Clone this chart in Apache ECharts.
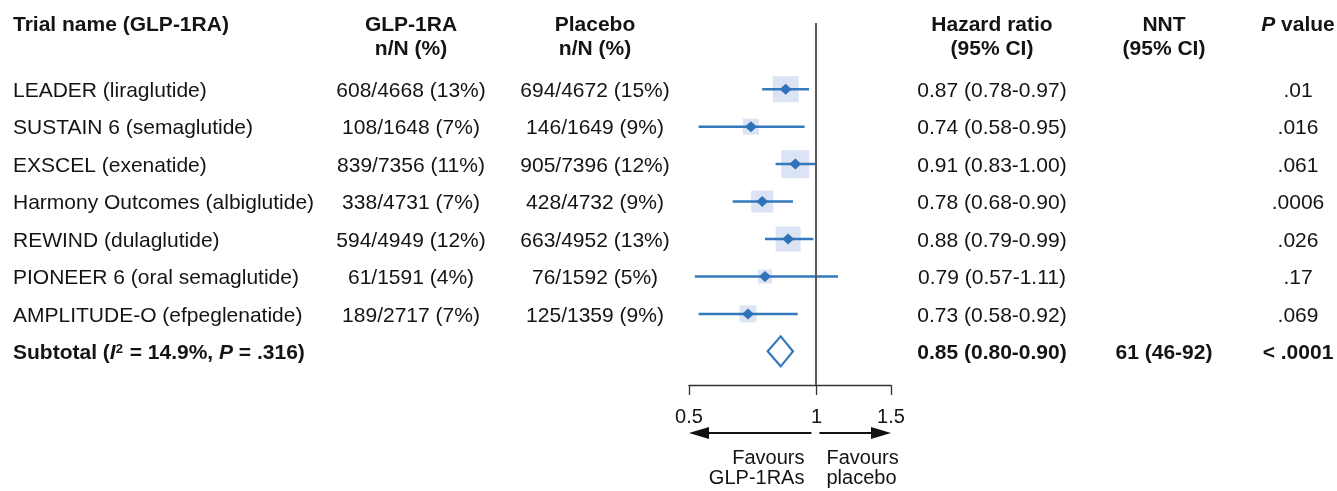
<!DOCTYPE html>
<html>
<head>
<meta charset="utf-8">
<script src="https://cdn.jsdelivr.net/npm/echarts@6/dist/echarts.min.js"></script>
<style>
html,body{margin:0;padding:0;background:#fff;}
#chart{width:1337px;height:491px;}
</style>
</head>
<body>
<div id="chart"></div>
<script>
// ---------------- DATA ----------------
const trials = ['LEADER (liraglutide)', 'SUSTAIN 6 (semaglutide)', 'EXSCEL (exenatide)',
  'Harmony Outcomes (albiglutide)', 'REWIND (dulaglutide)', 'PIONEER 6 (oral semaglutide)',
  'AMPLITUDE-O (efpeglenatide)'];
const glpEvents = ['608/4668 (13%)', '108/1648 (7%)', '839/7356 (11%)', '338/4731 (7%)',
  '594/4949 (12%)', '61/1591 (4%)', '189/2717 (7%)'];
const placeboEvents = ['694/4672 (15%)', '146/1649 (9%)', '905/7396 (12%)', '428/4732 (9%)',
  '663/4952 (13%)', '76/1592 (5%)', '125/1359 (9%)'];
const hr = [0.87, 0.74, 0.91, 0.78, 0.88, 0.79, 0.73];
const ciLow = [0.78, 0.58, 0.83, 0.68, 0.79, 0.57, 0.58];
const ciHigh = [0.97, 0.95, 1.00, 0.90, 0.99, 1.11, 0.92];
const pValues = ['.01', '.016', '.061', '.0006', '.026', '.17', '.069'];
const subtotalHR = 0.85, subtotalLow = 0.80, subtotalHigh = 0.90;
const subtotalNNT = '61 (46-92)';
const subtotalP = '< .0001';
const axisTicks = [0.5, 1, 1.5];

// ---------------- STYLE ----------------
const boxSizePx = [26, 16, 28, 22, 25, 14, 17];
const FONT = "'Liberation Sans', Arial, Helvetica, sans-serif";
const TXT = '#141414';
const BLUE = '#3478bd';
const BOX = '#dce3f5';
const fmt = v => v.toFixed(2);

const chart = echarts.init(document.getElementById('chart'), null, {renderer: 'canvas'});

const rowIdx = trials.map((_, i) => i);
const subRow = trials.length;

const option = {
  backgroundColor: '#ffffff',
  animation: false,
  grid: [
    {left: 666.7, width: 236, top: 23, height: 362},
    {left: 689, width: 202, top: 23, height: 362}
  ],
  xAxis: [
    {type: 'log', gridIndex: 0, min: 0.5, max: 1.5, logBase: 10, show: false},
    {type: 'value', gridIndex: 1, min: Math.log(0.5), max: Math.log(1.5),
      splitLine: {show: false},
      axisLine: {show: true, lineStyle: {color: '#333', width: 1.3}},
      axisTick: {show: true, customValues: axisTicks.map(Math.log), length: 10,
        lineStyle: {color: '#333', width: 1.3}},
      axisLabel: {show: true, customValues: axisTicks.map(Math.log), margin: 22,
        fontSize: 20, fontFamily: FONT, color: TXT,
        formatter: v => String(Math.round(Math.exp(v) * 10) / 10)}
    }
  ],
  yAxis: [
    {type: 'value', gridIndex: 0, inverse: true, min: -1.768, max: 7.899, show: false},
    {type: 'value', gridIndex: 1, show: false, min: 0, max: 1}
  ],
  series: [
    {
      type: 'scatter', xAxisIndex: 0, yAxisIndex: 0, z: 2,
      symbol: 'rect',
      data: hr.map((v, i) => ({value: [v, i], symbolSize: boxSizePx[i]})),
      itemStyle: {color: BOX, opacity: 1}
    },
    {
      type: 'custom', xAxisIndex: 0, yAxisIndex: 0, z: 3,
      data: rowIdx.map(i => [ciLow[i], i, ciHigh[i]]),
      encode: {x: [0, 2], y: 1},
      renderItem: (params, api) => {
        const y = api.value(1);
        const p1 = api.coord([api.value(0), y]);
        const p2 = api.coord([api.value(2), y]);
        return {type: 'line', shape: {x1: p1[0], y1: p1[1], x2: p2[0], y2: p2[1]},
          style: {stroke: BLUE, lineWidth: 2.5}};
      }
    },
    {
      type: 'scatter', xAxisIndex: 0, yAxisIndex: 0, z: 4,
      symbol: 'diamond', symbolSize: [12, 11],
      data: hr.map((v, i) => [v, i]),
      itemStyle: {color: '#2f72b8', opacity: 1},
      markLine: {
        silent: true, symbol: 'none', animation: false,
        label: {show: false},
        lineStyle: {color: '#5a5a5a', width: 2, type: 'solid'},
        data: [{xAxis: 1}]
      }
    },
    {
      type: 'custom', xAxisIndex: 0, yAxisIndex: 0, z: 4,
      data: [[subtotalLow, subRow, subtotalHigh, subtotalHR]],
      encode: {x: [0, 2, 3], y: 1},
      renderItem: (params, api) => {
        const y = api.value(1);
        const l = api.coord([api.value(0), y]);
        const r = api.coord([api.value(2), y]);
        const c = api.coord([api.value(3), y]);
        const h = 15;
        return {type: 'polygon',
          shape: {points: [[l[0], l[1]], [c[0], c[1] - h], [r[0], r[1]], [c[0], c[1] + h]]},
          style: {fill: '#fff', stroke: BLUE, lineWidth: 2.2}};
      }
    }
  ]
};
chart.setOption(option);

// ---------------- TEXT TABLE ----------------
const TEXT_DY = 2;
const rowY = i => chart.convertToPixel({xAxisIndex: 0, yAxisIndex: 0}, [1, i])[1] + TEXT_DY;
const ax = v => chart.convertToPixel({xAxisIndex: 1, yAxisIndex: 1}, [Math.log(v), 0]);

const colTrial = 13, colGlp = 411, colPla = 595, colHR = 992, colNNT = 1164, colP = 1298;
const head1 = 25, head2 = 49;
const g = [];
function txt(text, x, y, align, opts) {
  g.push({type: 'text', x: x, y: y, silent: true,
    style: Object.assign({text: text, fill: TXT, fontSize: 21, fontFamily: FONT,
      align: align, verticalAlign: 'middle'}, opts || {})});
}
const bold = {fontWeight: 'bold'};
// header
txt('Trial name (GLP-1RA)', colTrial, head1, 'left', bold);
txt('GLP-1RA', colGlp, head1, 'center', bold);
txt('n/N (%)', colGlp, head2, 'center', bold);
txt('Placebo', colPla, head1, 'center', bold);
txt('n/N (%)', colPla, head2, 'center', bold);
txt('Hazard ratio', colHR, head1, 'center', bold);
txt('(95% CI)', colHR, head2, 'center', bold);
txt('NNT', colNNT, head1, 'center', bold);
txt('(95% CI)', colNNT, head2, 'center', bold);
txt('{pi|P} value', colP, head1, 'center', {fontWeight: 'bold',
  rich: {pi: {fontStyle: 'italic', fontWeight: 'bold', fontSize: 21, fontFamily: FONT, fill: TXT}}});

rowIdx.forEach(i => {
  const y = rowY(i);
  txt(trials[i], colTrial, y, 'left');
  txt(glpEvents[i], colGlp, y, 'center');
  txt(placeboEvents[i], colPla, y, 'center');
  txt(fmt(hr[i]) + ' (' + fmt(ciLow[i]) + '-' + fmt(ciHigh[i]) + ')', colHR, y, 'center');
  txt(pValues[i], colP, y, 'center');
});
const ys = rowY(subRow);
const rb = {fontWeight: 'bold', fontSize: 21, fontFamily: FONT, fill: TXT};
txt('{b|Subtotal (}{bi|I}{sup|2}{b| = 14.9%, }{bi|P}{b| = .316)}', colTrial, ys, 'left', {
  fontWeight: 'bold',
  rich: {
    b: rb,
    bi: Object.assign({}, rb, {fontStyle: 'italic'}),
    sup: Object.assign({}, rb, {fontSize: 13, verticalAlign: 'top', padding: [0, 1, 0, 0]})
  }
});
txt(fmt(subtotalHR) + ' (' + fmt(subtotalLow) + '-' + fmt(subtotalHigh) + ')', colHR, ys, 'center', bold);
txt(subtotalNNT, colNNT, ys, 'center', bold);
txt(subtotalP, colP, ys, 'center', bold);

// ---------------- FAVOURS ARROWS ----------------
const xL = ax(axisTicks[0])[0], xC = ax(1)[0], xR = ax(axisTicks[2])[0];
const arrowY = 433, headLen = 20, headH = 6;
const ARW = '#111';
g.push({type: 'line', silent: true, shape: {x1: xL + headLen - 2, y1: arrowY, x2: xC - 5, y2: arrowY},
  style: {stroke: ARW, lineWidth: 2}});
g.push({type: 'polygon', silent: true,
  shape: {points: [[xL, arrowY], [xL + headLen, arrowY - headH], [xL + headLen, arrowY + headH]]},
  style: {fill: ARW}});
g.push({type: 'line', silent: true, shape: {x1: xC + 3, y1: arrowY, x2: xR - headLen + 2, y2: arrowY},
  style: {stroke: ARW, lineWidth: 2}});
g.push({type: 'polygon', silent: true,
  shape: {points: [[xR, arrowY], [xR - headLen, arrowY - headH], [xR - headLen, arrowY + headH]]},
  style: {fill: ARW}});
txt('Favours', xC - 12, 458, 'right', {fontSize: 20});
txt('GLP-1RAs', xC - 12, 478, 'right', {fontSize: 20});
txt('Favours', xC + 10, 458, 'left', {fontSize: 20});
txt('placebo', xC + 10, 478, 'left', {fontSize: 20});

chart.setOption({graphic: g});
</script>
</body>
</html>
